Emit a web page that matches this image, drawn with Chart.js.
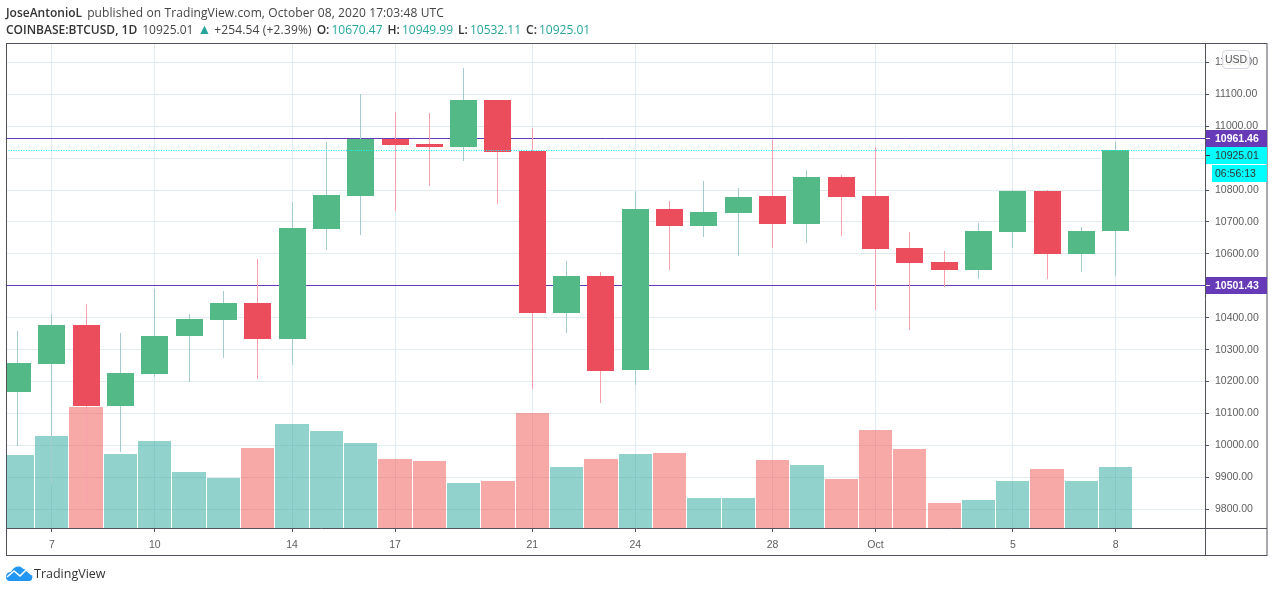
<!DOCTYPE html>
<html>
<head>
<meta charset="utf-8">
<title>BTCUSD</title>
<script src="https://cdn.jsdelivr.net/npm/chart.js@4"></script>
<style>
  html, body { margin: 0; padding: 0; background: #fff; }
  body { width: 1274px; height: 592px; overflow: hidden; position: relative; font-family: "Open Sans", sans-serif; }
  canvas { position: absolute; left: 0; top: 0; }
  .line { position: absolute; left: 6px; white-space: nowrap; font-size: 12px; color: #444; }
  .line b { font-weight: 600; color: #333; }
  .line i { font-style: normal; color: #26a69a; }
  .usd { position: absolute; left: 1222px; top: 50px; width: 26px; height: 17px; text-align: center;
         border: 1px solid #d6d8e0; border-radius: 4px; background: rgba(255,255,255,.85);
         font: 10.5px "Liberation Sans", sans-serif; line-height: 17px; color: #555; }
  .logo { position: absolute; left: 6px; top: 565px; }
  .brand { position: absolute; left: 34px; top: 565px; font-size: 12.5px; line-height: 18px; color: #333; }
  .sp { letter-spacing: .07px; margin-left: 5px; }
  .tri { font-size: 14px; line-height: 12px; margin: 0 3px 0 4px; }
  .lbl { margin-left: 5px; margin-right: 2px; }
</style>
</head>
<body>
<canvas id="c" width="1274" height="592"></canvas>
<div class="line" style="top:4px"><b>JoseAntonioL</b><span class="sp" style="letter-spacing:.1px">published on TradingView.com, October 08, 2020 17:03:48 UTC</span></div>
<div class="line" style="top:21px"><b>COINBASE:BTCUSD, 1D</b><span style="margin-left:5px">10925.01</span><i class="tri">▲</i><span style="letter-spacing:.15px">+254.54 (+2.39%)</span><b class="lbl">O:</b><i>10670.47</i><b class="lbl">H:</b><i>10949.99</i><b class="lbl">L:</b><i>10532.11</i><b class="lbl">C:</b><i>10925.01</i></div>
<div class="usd">USD</div>
<svg class="logo" width="27" height="17" viewBox="0 0 27 17"><path fill="#2196f3" d="M0 12 C0 8 3 7 5 7 C7 2 13 0 16 3 C18 5 21 4 23 7 C26 8 27 11 26 14 C25 16 24 16 22 16 L4 16 C1 16 0 14 0 12 Z"/><path fill="none" stroke="#fff" stroke-width="1.6" d="M1 12 L8 6 L14 11 L20 5 L26 10"/></svg>
<div class="brand">TradingView</div>
<script>
// candles from Sep 6 to Oct 8 2020
const opens  = [10167,10255,10377,10124,10224,10343,10393,10446,10334,10678,10782,10960,10944,10935,11082,10922,10415,10531,10236,10741,10688,10728,10782,10694,10841,10782,10619,10575,10550,10669,10797,10600,10670.47];
const highs  = [10358,10412,10443,10352,10490,10412,10484,10584,10763,10951,11101,11045,11042,11182,11082,10995,10578,10543,10797,10766,10829,10807,10957,10863,10847,10935,10669,10609,10697,10800,10800,10684,10949.99];
const lows   = [9999,9876,9820,9980,10214,10199,10274,10208,10252,10612,10659,10735,10813,10891,10756,10177,10352,10133,10189,10550,10653,10594,10619,10634,10656,10424,10362,10496,10521,10619,10521,10543,10532.11];
const closes = [10258,10377,10124,10227,10343,10396,10446,10334,10681,10785,10960,10941,10935,11082,10919,10415,10531,10233,10741,10688,10731,10778,10694,10841,10778,10615,10572,10550,10672,10797,10600,10672,10925.01];
const volumes = [7300,9200,12100,7400,8700,5600,5000,8000,10400,9700,8500,6900,6700,4500,4700,11500,6100,6900,7400,7500,3000,3000,6800,6300,4900,9800,7900,2500,2800,4700,5900,4700,6100];

const dayTicks = [1,4,8,11,15,18,22,25,29,32];
const dayLabels = ['7','10','14','17','21','24','28','Oct','5','8'];
const priceTicks = [9800,9900,10000,10100,10200,10300,10400,10500,10600,10700,10800,10900,11000,11100,11200];

const levelHigh = 10961.46;
const levelLow = 10501.43;
const lastPrice = 10925.01;
const countdown = '06:56:13';

const X_MIN = -0.32, X_MAX = 34.6;
const GREEN = '#53b987', RED = '#eb4d5c', GREEN_WICK = '#a5cdd0', RED_WICK = '#f9a0ae';
const FRAME = '#50535e', AXIS_FONT = { family: '"Liberation Sans", sans-serif', size: 10.5 };

const isUp = opens.map((o, i) => closes[i] >= o);
const flat = v => [{ x: X_MIN, y: v }, { x: X_MAX, y: v }];
const levelLine = (v, color, order, dash) => ({
  type: 'line', data: flat(v), borderColor: color, borderWidth: 1, borderDash: dash || [], borderDashOffset: 0.5, pointRadius: 0, order,
});

// keep candles and level lines crisp, the source chart has them on whole pixels
const snapMarks = {
  id: 'snapMarks',
  beforeDatasetsDraw(chart) {
    chart.getSortedVisibleDatasetMetas().forEach(meta => {
      meta.data.forEach(el => {
        if (meta.type === 'line') {
          el.y = Math.floor(el.y) + 0.5;
          return;
        }
        const l = Math.round(el.x - el.width / 2);
        const r = Math.round(el.x + el.width / 2);
        el.x = (l + r) / 2;
        el.width = r - l;
        el.y = Math.round(el.y);
        el.base = Math.round(el.base);
        el.height = el.base - el.y;
      });
    });
  },
};

const priceLabels = {
  id: 'priceLabels',
  afterDraw(chart) {
    const { ctx, chartArea: a, scales } = chart;
    const right = 1267;
    ctx.save();
    // outer frame and axis lines
    ctx.strokeStyle = FRAME;
    ctx.lineWidth = 1;
    ctx.strokeRect(a.left, a.top, right - a.left, 555.5 - a.top);
    ctx.beginPath();
    ctx.moveTo(a.left, a.bottom + 0.5); ctx.lineTo(right, a.bottom + 0.5);
    ctx.moveTo(a.right + 0.5, a.top); ctx.lineTo(a.right + 0.5, 555.5);
    ctx.stroke();

    const tag = (text, yMid, bg, fg, bold, x0) => {
      ctx.fillStyle = bg;
      ctx.fillRect(x0, yMid - 8.5, right - x0, 17);
      ctx.fillStyle = fg;
      if (x0 < 1210) ctx.fillRect(x0, yMid - 0.5, 4, 1);
      ctx.font = (bold ? 'bold ' : '') + '10.5px "Liberation Sans", sans-serif';
      ctx.textBaseline = 'middle';
      ctx.fillText(text, 1215, yMid + 0.5);
    };
    const yHigh = Math.floor(scales.y.getPixelForValue(levelHigh)) + 0.5;
    const yLow = Math.floor(scales.y.getPixelForValue(levelLow)) + 0.5;
    tag(levelHigh.toFixed(2), yHigh, '#673ab7', '#fff', true, a.right + 1);
    tag(levelLow.toFixed(2), yLow, '#673ab7', '#fff', true, a.right + 1);
    tag(lastPrice.toFixed(2), yHigh + 17, '#00ffff', '#333', false, a.right + 1);
    tag(countdown, yHigh + 35, '#00ffff', '#333', false, 1212);
    ctx.restore();
  },
};

new Chart(document.getElementById('c'), {
  data: {
    datasets: [
      levelLine(levelHigh, '#673ab7', 6),
      levelLine(levelLow, '#673ab7', 6),
      {
        type: 'bar', label: 'volume', yAxisID: 'yVol', grouped: false, barThickness: 33.3, order: 5, inflateAmount: 0,
        data: volumes.map((v, i) => ({ x: i, y: v })),
        backgroundColor: isUp.map(u => u ? 'rgba(38,166,154,0.5)' : 'rgba(239,83,80,0.5)'),
      },
      {
        type: 'bar', label: 'wick', grouped: false, barThickness: 1, order: 4, inflateAmount: 0,
        data: highs.map((h, i) => ({ x: i, y: [lows[i], h] })),
        backgroundColor: isUp.map(u => u ? GREEN_WICK : RED_WICK),
      },
      {
        type: 'bar', label: 'candle', grouped: false, barThickness: 27, order: 3, inflateAmount: 0,
        data: opens.map((o, i) => ({ x: i, y: [o, closes[i]] })),
        backgroundColor: isUp.map(u => u ? GREEN : RED),
      },
      levelLine(lastPrice, '#00ffff', 2, [1, 1.5]),
    ],
  },
  options: {
    responsive: false,
    animation: false,
    events: [],
    layout: { padding: { left: 6.5, right: 7, top: 43.5, bottom: 37 } },
    plugins: { legend: { display: false }, tooltip: { enabled: false } },
    scales: {
      x: {
        type: 'linear',
        min: X_MIN,
        max: X_MAX,
        offset: false,
        afterBuildTicks: s => { s.ticks = dayTicks.map(v => ({ value: v })); },
        afterFit: s => { s.height = 27; },
        grid: { offset: false, color: '#e1ecf2', tickColor: FRAME, tickLength: 4 },
        border: { display: false },
        ticks: {
          autoSkip: false, maxRotation: 0, padding: 7, color: '#5d5d5d', font: AXIS_FONT,
          callback: v => dayLabels[dayTicks.indexOf(v)],
        },
      },
      y: {
        position: 'right',
        min: 9741.4,
        max: 11259,
        afterBuildTicks: s => { s.ticks = priceTicks.map(v => ({ value: v })); },
        afterFit: s => { s.width = 62; },
        grid: { color: '#e1ecf2', tickColor: FRAME, tickLength: 4 },
        border: { display: false },
        ticks: { autoSkip: false, padding: 6, color: '#5d5d5d', font: AXIS_FONT, callback: v => v.toFixed(2) },
      },
      yVol: { display: false, min: 0, max: 48450 },
    },
  },
  plugins: [snapMarks, priceLabels],
});
</script>
</body>
</html>
